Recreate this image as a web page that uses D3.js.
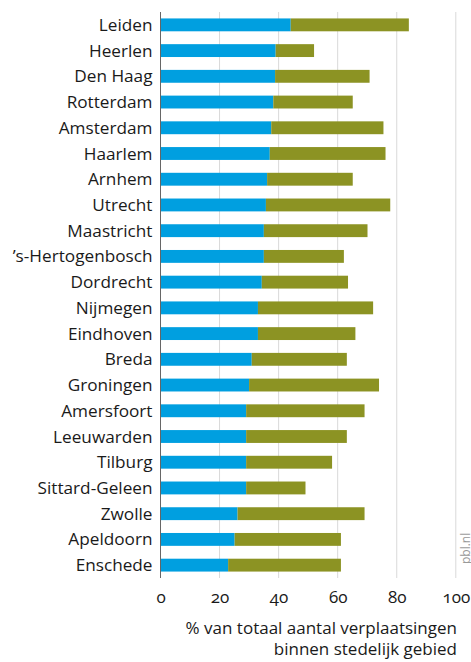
<!DOCTYPE html>
<html><head><meta charset="utf-8">
<script src="https://cdn.jsdelivr.net/npm/d3@7"></script>
<style>body{margin:0;background:#fff}svg{display:block}.onum{font-feature-settings:"onum" 1;font-variant-numeric:oldstyle-nums}</style>
</head><body>
<svg id="c" width="471" height="662"></svg>
<script>
const cities = ["Leiden","Heerlen","Den Haag","Rotterdam","Amsterdam","Haarlem","Arnhem","Utrecht","Maastricht","\u2019s-Hertogenbosch","Dordrecht","Nijmegen","Eindhoven","Breda","Groningen","Amersfoort","Leeuwarden","Tilburg","Sittard-Geleen","Zwolle","Apeldoorn","Enschede"];
const blueVals = [44.1,39.0,38.8,38.2,37.5,37.0,36.1,35.7,35.0,35.0,34.3,33.0,33.0,30.9,30.0,29.0,29.0,29.0,29.0,26.1,25.1,22.9];
const oliveVals = [40.0,13.0,32.0,26.9,38.0,39.2,29.0,42.1,35.1,27.1,29.2,39.0,33.0,32.2,44.0,40.1,34.1,29.1,20.1,43.0,36.0,38.2];
const tickVals = [0,20,40,60,80,100];
const axisTitle = ["% van totaal aantal verplaatsingen","binnen stedelijk gebied"];
const colors = ["#009fe0","#8c9323"];

const svg = d3.select("#c");
const font = "'Open Sans','Noto Sans',sans-serif";
const x = d3.scaleLinear().domain([0,100]).range([160.5,455.8]);
const y = d3.scaleBand().domain(cities).range([12,578]).paddingInner(0.5).paddingOuter(0.25);

// gridlines
svg.append("g").selectAll("line").data(tickVals.slice(1)).join("line")
  .attr("x1",d=>x(d)).attr("x2",d=>x(d)).attr("y1",12).attr("y2",578)
  .attr("stroke","#d9d9d9").attr("stroke-width",1);

const stackData = cities.map((c,i)=>({city:c,a:blueVals[i],b:oliveVals[i]}));
const series = d3.stack().keys(["a","b"])(stackData);
svg.append("g").selectAll("g").data(series).join("g")
  .attr("fill",(d,i)=>colors[i])
  .selectAll("rect").data(d=>d).join("rect")
  .attr("x",d=>x(d[0])).attr("width",d=>x(d[1])-x(d[0]))
  .attr("y",d=>y(d.data.city)).attr("height",y.bandwidth());

// axis line
svg.append("line").attr("x1",x(0)).attr("x2",x(0)).attr("y1",12).attr("y2",578)
  .attr("stroke","#666").attr("stroke-width",1);

// y labels
const yAxis = svg.append("g").attr("transform",`translate(${x(0)-8},0)`)
  .call(d3.axisLeft(y).tickSize(0).tickPadding(0));
yAxis.select(".domain").remove();
yAxis.selectAll("text").attr("font-family",font).attr("font-size",17.2).attr("fill","#1a1a1a").attr("dy","0.35em");

// x ticks
const xAxis = svg.append("g").attr("transform","translate(0,578)")
  .call(d3.axisBottom(x).tickValues(tickVals).tickSize(0).tickPadding(13));
xAxis.select(".domain").remove();
xAxis.selectAll("text").attr("class","onum").attr("font-family",font).attr("font-size",17).attr("fill","#1a1a1a");

// axis title
svg.append("g").selectAll("text").data(axisTitle).join("text")
  .attr("x",457).attr("y",(d,i)=>634+i*21).attr("text-anchor","end")
  .attr("font-family",font).attr("font-size",17).attr("fill","#1a1a1a").text(d=>d);

// source
svg.append("text").attr("transform","translate(470,564) rotate(-90)")
  .attr("font-family",font).attr("font-size",12).attr("fill","#999").text("pbl.nl");
</script>
</body></html>
